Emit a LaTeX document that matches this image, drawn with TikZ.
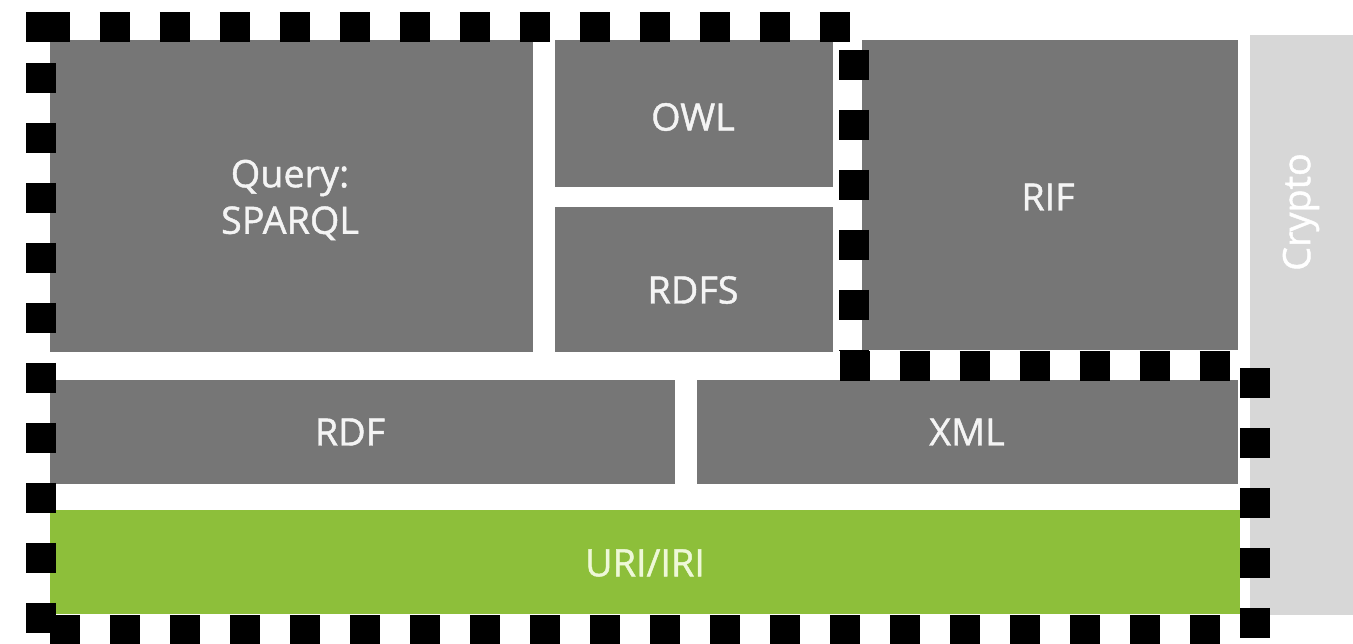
\documentclass[tikz,border=0pt]{standalone}
\usepackage{fontspec}
\setmainfont{Open Sans}
\newfontfamily\lblfont[FakeBold=1.2]{Open Sans}
\usetikzlibrary{fit}
\definecolor{boxgray}{HTML}{767676}
\definecolor{cryptogray}{HTML}{D7D7D7}
\definecolor{urigreen}{HTML}{8DBF3A}
\definecolor{lbltext}{HTML}{F4F4F4}
\definecolor{greentext}{HTML}{EEF8D8}
\begin{document}
\begin{tikzpicture}[x=0.02cm,y=-0.02cm,
  box/.style={fill=boxgray, draw=none, inner sep=0pt},
  lbl/.style={text=lbltext, font=\lblfont\fontsize{21.5}{26.5}\selectfont, align=center, inner sep=0pt},
  frame/.style={line width=0.6cm, black, dash pattern=on 0.6cm off 0.6cm}]
\useasboundingbox[fill=white] (0,0) rectangle (1353,643);
% crypto bar
\node[fill=cryptogray, inner sep=0pt, fit={(1250,35) (1353,615)}] (crypto) {};
\node[lbl, text=white, rotate=90] at (1301,212) {Crypto};
% boxes
\node[box, fit={(50,40) (533,352)}] (query) {};
\node[box, fit={(555,40) (833,187)}] (owl) {};
\node[box, fit={(555,207) (833,352)}] (rdfs) {};
\node[box, fit={(862,40) (1238,350)}] (rif) {};
\node[box, fit={(50,380) (675,484)}] (rdf) {};
\node[box, fit={(697,380) (1238,484)}] (xml) {};
\node[fill=urigreen, inner sep=0pt, fit={(50,510) (1240,614)}] (uri) {};
% labels
\node[lbl] at (290,200) {Query:\\SPARQL};
\node[lbl] at (693,117) {OWL};
\node[lbl] at (693,290) {RDFS};
\node[lbl] at (1048,197) {RIF};
\node[lbl] at (350,432) {RDF};
\node[lbl] at (967,432) {XML};
\node[lbl, text=greentext] at (645,563) {URI/IRI};
% dashed frame
\draw[frame] (41,12) -- (41,42);
\draw[frame] (40,27) -- (850,27);
\draw[frame] (41,63) -- (41,643);
\draw[frame] (854,50) -- (854,350);
\draw[frame] (840,366) -- (1230,366);
\draw[frame] (1255,368) -- (1255,643);
\draw[frame] (50,630) -- (1222,630);
\end{tikzpicture}
\end{document}
